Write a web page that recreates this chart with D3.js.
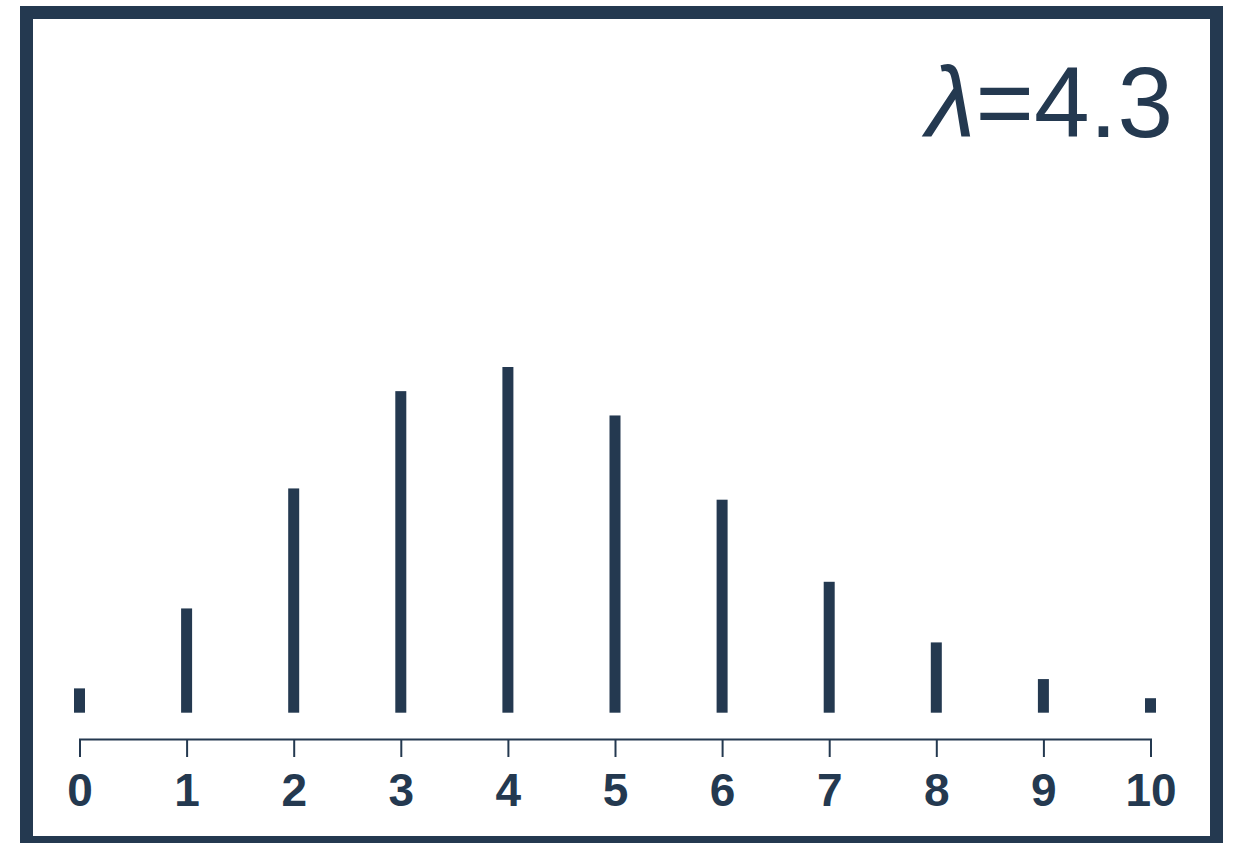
<!DOCTYPE html>
<html>
<head>
<meta charset="utf-8">
<script src="https://cdn.jsdelivr.net/npm/d3@7"></script>
<style>
  html, body { margin: 0; padding: 0; background: #fff; }
  svg { display: block; }
</style>
</head>
<body>
<div id="area"></div>
<script>
// poisson pmf, lambda = 4.3
var lambdaSymbol = "\u03bb";
var lambdaValue = "=4.3";
var counts = [0, 1, 2, 3, 4, 5, 6, 7, 8, 9, 10];
var probs = [0.0136, 0.0583, 0.1254, 0.1798, 0.1933, 0.1662, 0.1191, 0.0732, 0.0393, 0.0188, 0.0081];

var width = 1233, height = 843;
var ink = "#243950";

var svg = d3.select("#area")
.append("svg")
  .attr("width", width)
  .attr("height", height);

// frame
svg.append("rect")
  .attr("x", 26.5)
  .attr("y", 12.5)
  .attr("width", 1190)
  .attr("height", 830)
  .style("fill", "none")
  .style("stroke", ink)
  .style("stroke-width", 13);

var x = d3.scaleLinear()
.domain([0, 10])
.range([79.5, 1150.5]);

var y = d3.scaleLinear()
.domain([0, 0.1933])
.range([712.7, 367]);

var barWidth = 11;

svg.selectAll(".bar")
.data(counts)
.enter()
.append("rect")
  .attr("class", "bar")
  .attr("x", function(d) { return x(d) - barWidth / 2; })
  .attr("y", function(d, i) { return y(probs[i]); })
  .attr("width", barWidth)
  .attr("height", function(d, i) { return y(0) - y(probs[i]); })
  .style("fill", ink);

var axis = svg.append("g")
.attr("transform", "translate(0,739)")
.call(d3.axisBottom(x).tickValues(counts).tickFormat(d3.format("d")).tickSize(18).tickPadding(16));

axis.select(".domain")
  .style("stroke", ink)
  .style("stroke-width", 2);
axis.selectAll(".tick line")
  .style("stroke", ink)
  .style("stroke-width", 2);
axis.selectAll(".tick text")
  .style("fill", ink)
  .style("font-family", "'Liberation Sans', Arial, sans-serif")
  .style("font-weight", "bold")
  .style("font-size", "46px");

// lambda label, top right
var label = svg.append("text")
  .attr("x", 1173)
  .attr("y", 137)
  .attr("text-anchor", "end")
  .style("fill", ink)
  .style("font-family", "'Liberation Sans', Arial, sans-serif")
  .style("font-size", "100px");
label.append("tspan")
  .style("font-style", "italic")
  .text(lambdaSymbol);
label.append("tspan")
  .text(lambdaValue);
</script>
</body>
</html>
